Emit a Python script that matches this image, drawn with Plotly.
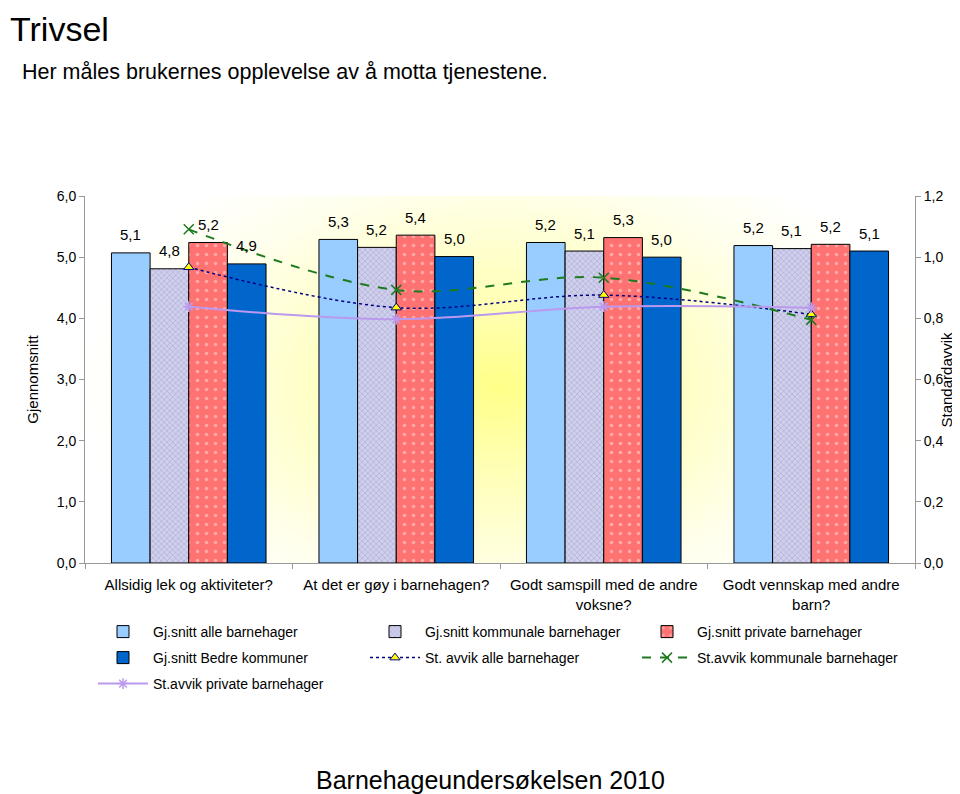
import base64
import plotly.graph_objects as go

# ---- data ----
categories = ["Allsidig lek og aktiviteter?", "At det er gøy i barnehagen?",
              "Godt samspill med de andre voksne?", "Godt vennskap med andre barn?"]
tick_labels = ["Allsidig lek og aktiviteter?", "At det er gøy i barnehagen?",
               "Godt samspill med de andre<br>voksne?", "Godt vennskap med andre<br>barn?"]
snitt_alle = [5.07, 5.29, 5.24, 5.19]
snitt_kommunale = [4.81, 5.16, 5.10, 5.14]
snitt_private = [5.24, 5.36, 5.32, 5.21]
snitt_bedre = [4.89, 5.01, 5.00, 5.10]
stavvik_alle = [0.967, 0.835, 0.876, 0.813]
stavvik_kommunale = [1.091, 0.893, 0.933, 0.795]
stavvik_private = [0.838, 0.797, 0.838, 0.835]

FONT = "Arial, Liberation Sans, sans-serif"

# page body has an 8px margin; figure geometry compensates for it
W, H = 952, 786
ML, MR, MT, MB = 77, 45, 188, 231
PW, PH = W - ML - MR, H - MT - MB
BARGAP = 0.255


def px_x(page_x):
    return (page_x - 8 - ML) / PW


def px_y(page_y):
    return (H - MB - (page_y - 8)) / PH


fig = go.Figure()
bar_series = [
    ("Gj.snitt alle barnehager", snitt_alle,
     dict(color="#99CCFF", line=dict(color="black", width=1)), "legend"),
    ("Gj.snitt kommunale barnehager", snitt_kommunale,
     dict(color="#D0D0EC", line=dict(color="black", width=1),
          pattern=dict(shape="x", fgcolor="#9494C8", size=4, solidity=0.35)), "legend"),
    ("Gj.snitt private barnehager", snitt_private,
     dict(color="#FF7272", line=dict(color="black", width=1),
          pattern=dict(shape=".", fgcolor="#FFE0E0", size=9, solidity=0.12)), "legend"),
    ("Gj.snitt Bedre kommuner", snitt_bedre,
     dict(color="#0066CC", line=dict(color="black", width=1)), "legend2"),
]
for name, vals, marker, leg in bar_series:
    fig.add_trace(go.Bar(name=name, x=categories, y=vals, marker=marker, legend=leg))

fig.add_trace(go.Scatter(name="St. avvik alle barnehager", x=categories, y=stavvik_alle, yaxis="y2",
                         legend="legend2", mode="lines+markers",
                         line=dict(color="#000080", width=1.5, dash="dot", shape="spline"),
                         marker=dict(symbol="triangle-up", size=9, color="#FFFF00",
                                     line=dict(color="#000080", width=1))))
fig.add_trace(go.Scatter(name="St.avvik kommunale barnehager", x=categories, y=stavvik_kommunale,
                         yaxis="y2", legend="legend2", mode="lines+markers",
                         line=dict(color="#1E7A1E", width=2, dash="dash", shape="spline"),
                         marker=dict(symbol="x-thin", size=10, line=dict(color="#1E7A1E", width=1.5))))
fig.add_trace(go.Scatter(name="St.avvik private barnehager", x=categories, y=stavvik_private,
                         yaxis="y2", legend="legend3", mode="lines+markers",
                         line=dict(color="#BB99EE", width=2, shape="spline"),
                         marker=dict(symbol="asterisk-open", size=9, line=dict(color="#BB99EE", width=1.5))))

# value labels above bars, placed through the axes (group offset derived from the bar layout)
annotations = []
group_px = PW / len(categories)
bar_px = group_px * (1 - BARGAP) / len(bar_series)
for i, (name, vals, marker, leg) in enumerate(bar_series):
    for c, v in zip(categories, vals):
        annotations.append(dict(text=f"{v:.1f}".replace(".", ","), x=c, y=v, xref="x", yref="y",
                                xshift=(i - (len(bar_series) - 1) / 2) * bar_px, yshift=18,
                                yanchor="middle", showarrow=False, font=dict(size=15, color="black")))

annotations += [
    dict(text="Trivsel", xref="paper", yref="paper", x=px_x(8), y=px_y(8),
         xanchor="left", yanchor="top", showarrow=False, font=dict(size=34)),
    dict(text="Her måles brukernes opplevelse av å motta tjenestene.", xref="paper", yref="paper",
         x=px_x(20), y=px_y(72), xanchor="left", yanchor="middle",
         showarrow=False, font=dict(size=21.5)),
    dict(text="Barnehageundersøkelsen 2010", xref="paper", yref="paper",
         x=px_x(490), y=px_y(780), xanchor="center", yanchor="middle",
         showarrow=False, font=dict(size=25)),
    dict(text="Standardavvik", xref="paper", yref="paper", x=px_x(946), y=0.5,
         xanchor="center", yanchor="middle", textangle=-90, showarrow=False, font=dict(size=15)),
]

svg = ('<svg xmlns="http://www.w3.org/2000/svg" width="830" height="367" viewBox="0 0 830 367" '
       'preserveAspectRatio="none"><defs><radialGradient id="g" gradientUnits="userSpaceOnUse" '
       'cx="0" cy="0" r="1" gradientTransform="translate(413 190) scale(420 270)">'
       '<stop offset="0" stop-color="#FFFF88"/><stop offset="0.35" stop-color="#FFFFBB"/>'
       '<stop offset="0.75" stop-color="#FFFFEC"/><stop offset="1" stop-color="#FFFFFF"/>'
       '</radialGradient></defs><rect width="830" height="367" fill="url(#g)"/></svg>')
src = "data:image/svg+xml;base64," + base64.b64encode(svg.encode()).decode()

axis_common = dict(showline=True, linecolor="#999999", linewidth=1, ticks="outside",
                   tickcolor="#999999", ticklen=5, showgrid=False, zeroline=False,
                   tickfont=dict(size=14, color="black"))

legend_common = dict(orientation="h", xanchor="left", yanchor="middle", entrywidth=207,
                     entrywidthmode="pixels", itemwidth=50, font=dict(size=14, color="black"),
                     bgcolor="rgba(0,0,0,0)", traceorder="normal")

fig.update_layout(
    width=W, height=H,
    margin=dict(l=ML, r=MR, t=MT, b=MB, autoexpand=False),
    paper_bgcolor="white", plot_bgcolor="rgba(0,0,0,0)",
    font=dict(family=FONT, color="black"),
    separators=", ",
    barmode="group", bargap=BARGAP, bargroupgap=0,
    xaxis=dict(**{**axis_common, "tickfont": dict(size=15, color="black")},
               tickvals=categories, ticktext=tick_labels, tickson="boundaries",
               ticklabelstandoff=8, automargin=False),
    yaxis=dict(**axis_common, range=[0, 6], dtick=1, tickformat=".1f",
               title=dict(text="Gjennomsnitt", font=dict(size=15), standoff=14), automargin=False),
    yaxis2=dict(**axis_common, range=[0, 1.2], dtick=0.2, tickformat=".1f", overlaying="y", side="right",
                automargin=False),
    images=[dict(source=src, xref="paper", yref="paper", x=0, y=1, sizex=1, sizey=1,
                 xanchor="left", yanchor="top", sizing="stretch", layer="below")],
    showlegend=True,
    legend=dict(**legend_common, x=px_x(93), y=px_y(632)),
    legend2=dict(**legend_common, x=px_x(93), y=px_y(658)),
    legend3=dict(**legend_common, x=px_x(93), y=px_y(684)),
    annotations=annotations,
)

fig.write_html("out.html")
